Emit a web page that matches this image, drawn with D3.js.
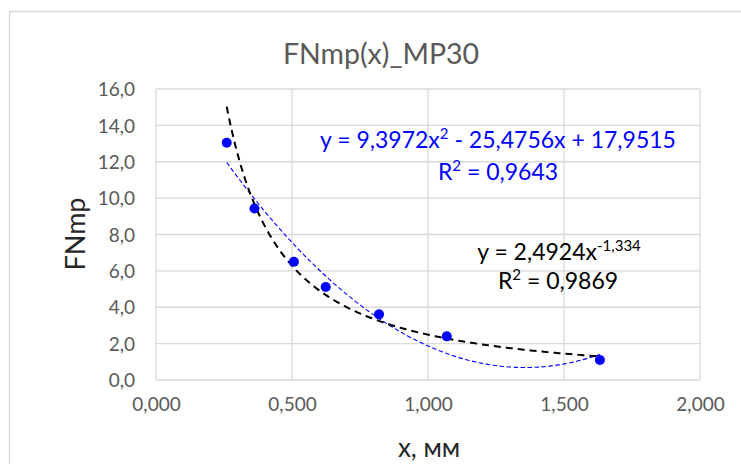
<!DOCTYPE html>
<html><head><meta charset="utf-8">
<script src="https://cdn.jsdelivr.net/npm/d3@7"></script>
<style>body{margin:0;background:#fff}svg{display:block}text{font-family:Lato,"Open Sans",sans-serif}</style>
</head><body><svg id="c" width="741" height="464"></svg>
<script>
const xValues = [0.260, 0.362, 0.507, 0.624, 0.820, 1.069, 1.632];
const yValues = [13.04, 9.43, 6.50, 5.11, 3.61, 2.40, 1.10];
const xTicks = [0, 0.5, 1.0, 1.5, 2.0];
const yTicks = [0, 2, 4, 6, 8, 10, 12, 14, 16];
const polyCoef = [9.3972, -25.4756, 17.9515]; // a x^2 + b x + c
const powerCoef = [2.4924, -1.334];           // a x^b
const title = "FNmp(x)_MP30";
const xTitle = "x, мм";
const yTitle = "FNmp";

const svg = d3.select("#c");
const M = {l:156, r:700, t:89, b:380};
const x = d3.scaleLinear().domain([0,2]).range([M.l, M.r]);
const y = d3.scaleLinear().domain([0,16]).range([M.b, M.t]);
const fmt = (d,n)=>d.toFixed(n).replace(".", ",");

// outer border
svg.append("rect").attr("x",9.5).attr("y",11.5).attr("width",760).attr("height",480)
  .attr("fill","none").attr("stroke","#d9d9d9").attr("stroke-width",1.5);

// gridlines
const grid = svg.append("g").attr("stroke","#d9d9d9").attr("stroke-width",1.3);
yTicks.forEach(t=>grid.append("line").attr("x1",M.l).attr("x2",M.r).attr("y1",y(t)).attr("y2",y(t)));
xTicks.forEach(t=>grid.append("line").attr("y1",M.t).attr("y2",M.b).attr("x1",x(t)).attr("x2",x(t)));

// axes
const xa = svg.append("g").attr("transform",`translate(0,${M.b})`)
  .call(d3.axisBottom(x).tickValues(xTicks).tickSize(0).tickPadding(19).tickFormat(d=>fmt(d,3)));
const ya = svg.append("g").attr("transform",`translate(${M.l},0)`)
  .call(d3.axisLeft(y).tickValues(yTicks).tickSize(0).tickPadding(21).tickFormat(d=>fmt(d,1)));
[xa,ya].forEach(a=>{a.select(".domain").remove();
  a.selectAll("text").attr("fill","#595959").style("font-size","19px").style("font-family","Lato,sans-serif");});
ya.selectAll("text").attr("dy","0.35em");
xa.selectAll("text").attr("dy","0.62em");

// trendlines
const xmin = d3.min(xValues), xmax = d3.max(xValues);
const samples = d3.range(0,201).map(i=>xmin+(xmax-xmin)*i/200);
const line = d3.line().x(d=>x(d[0])).y(d=>y(d[1]));
svg.append("path").datum(samples.map(v=>[v, polyCoef[0]*v*v+polyCoef[1]*v+polyCoef[2]]))
  .attr("d",line).attr("fill","none").attr("stroke","#0000ff").attr("stroke-width",1.1).attr("stroke-dasharray","4.5,2.5");
svg.append("path").datum(samples.map(v=>[v, powerCoef[0]*Math.pow(v,powerCoef[1])]))
  .attr("d",line).attr("fill","none").attr("stroke","#000").attr("stroke-width",2).attr("stroke-dasharray","7,5");

// points
svg.append("g").selectAll("circle").data(xValues.map((v,i)=>[v,yValues[i]])).join("circle")
  .attr("cx",d=>x(d[0])).attr("cy",d=>y(d[1])).attr("r",5).attr("fill","#0000ff");

// title
svg.append("text").attr("x",381).attr("y",64).attr("text-anchor","middle")
  .attr("fill","#595959").style("font-size","28.5px").text(title);
// axis titles
svg.append("text").attr("x",429).attr("y",457).attr("text-anchor","middle")
  .attr("fill","#262626").style("font-size","26px").text(xTitle);
svg.append("text").attr("transform","translate(85,234) rotate(-90)").attr("text-anchor","middle")
  .attr("fill","#262626").style("font-size","27px").text(yTitle);

// equation labels
function label(txt, sup, rest, cx, cy, col){
  const t = svg.append("text").attr("x",cx).attr("y",cy).attr("text-anchor","middle")
    .attr("fill",col).style("font-size","23px");
  t.append("tspan").text(txt);
  t.append("tspan").attr("dy",-9).style("font-size","15px").text(sup);
  t.append("tspan").attr("dy",9).text(rest);
}
label("y = "+fmt(polyCoef[0],4)+"x", "2", " - "+fmt(-polyCoef[1],4)+"x + "+fmt(polyCoef[2],4), 498, 148, "#0000ff");
label("R", "2", " = 0,9643", 498, 180, "#0000ff");
label("y = "+fmt(powerCoef[0],4)+"x", fmt(powerCoef[1],3), "", 559, 260, "#000");
label("R", "2", " = 0,9869", 558, 289, "#000");
</script></body></html>
